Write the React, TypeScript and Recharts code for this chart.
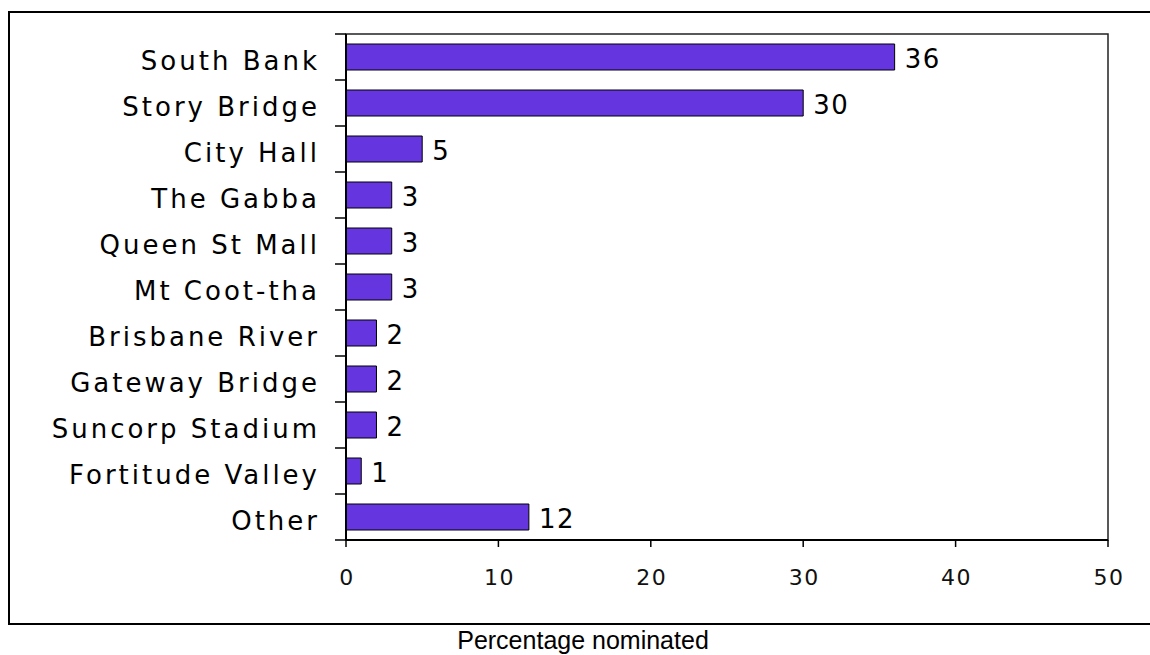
import { BarChart, Bar, XAxis, YAxis, LabelList, ReferenceArea } from "recharts";

const categories = [
  "South Bank",
  "Story Bridge",
  "City Hall",
  "The Gabba",
  "Queen St Mall",
  "Mt Coot-tha",
  "Brisbane River",
  "Gateway Bridge",
  "Suncorp Stadium",
  "Fortitude Valley",
  "Other",
];

const percentages = [36, 30, 5, 3, 3, 3, 2, 2, 2, 1, 12];

const xTicks = [0, 10, 20, 30, 40, 50];

const data = categories.map((name, i) => ({ name, value: percentages[i] }));

const CHART_W = 1150;
const CHART_H = 624;
const MARGIN = { top: 34, right: 42, bottom: 0, left: 0 };
const X_AXIS_H = 84;
const Y_AXIS_W = 346;
const PLOT_H = CHART_H - MARGIN.top - MARGIN.bottom - X_AXIS_H;
const BAND = PLOT_H / categories.length;
const Y_TICK = 11;

const labelFont = "'DejaVu Sans', sans-serif";

function CategoryTick(props: any) {
  const { x, y, payload, index } = props;
  const axisX = x + Y_TICK;
  const last = index === categories.length - 1;
  return (
    <g>
      <line x1={axisX - Y_TICK} x2={axisX} y1={y - BAND / 2} y2={y - BAND / 2} stroke="#000" strokeWidth={1.5} />
      {last && (
        <line x1={axisX - Y_TICK} x2={axisX} y1={y + BAND / 2} y2={y + BAND / 2} stroke="#000" strokeWidth={1.5} />
      )}
      <text
        x={axisX - 26}
        y={y + 12.5}
        textAnchor="end"
        fontFamily={labelFont}
        fontSize={26}
        letterSpacing={3}
        fill="#000"
      >
        {payload.value}
      </text>
    </g>
  );
}

function ValueTick(props: any) {
  const { x, y, payload } = props;
  return (
    <text x={x + 1} y={y + 38} textAnchor="middle" fontFamily={labelFont} fontSize={22} letterSpacing={1.5} fill="#111">
      {payload.value}
    </text>
  );
}

function BarValue(props: any) {
  const { x, y, width, height, value } = props;
  return (
    <text
      x={x + width + 10}
      y={y + height / 2 + 11}
      fontFamily={labelFont}
      fontSize={26}
      letterSpacing={1.5}
      fill="#000"
    >
      {value}
    </text>
  );
}

export default function App() {
  return (
    <div style={{ position: "relative", width: 1150, height: 655, overflow: "hidden", background: "#fff" }}>
      <style>{"html,body{margin:0;padding:0;overflow:hidden}"}</style>
      <div
        style={{
          position: "absolute",
          left: 8,
          top: 11,
          width: 1150,
          height: 614,
          boxSizing: "border-box",
          borderTop: "2px solid #000",
          borderLeft: "2px solid #000",
          borderBottom: "2px solid #000",
        }}
      />
      <div style={{ position: "absolute", left: 0, top: 0 }}>
        <BarChart width={CHART_W} height={CHART_H} data={data} layout="vertical" margin={MARGIN}>
          <ReferenceArea x1={0} x2={50} fill="none" stroke="#222" strokeWidth={1.5} />
          <XAxis
            type="number"
            domain={[0, 50]}
            ticks={xTicks}
            height={X_AXIS_H}
            tickSize={7}
            tickMargin={0}
            tick={<ValueTick />}
            axisLine={{ stroke: "#000", strokeWidth: 2 }}
            tickLine={{ stroke: "#000", strokeWidth: 1.5 }}
          />
          <YAxis
            type="category"
            dataKey="name"
            width={Y_AXIS_W}
            tickSize={Y_TICK}
            tickMargin={0}
            tickLine={false}
            tick={<CategoryTick />}
            interval={0}
            axisLine={{ stroke: "#000", strokeWidth: 2 }}
          />
          <Bar dataKey="value" fill="#6535DF" stroke="#000" strokeWidth={1} barSize={26} isAnimationActive={false}>
            <LabelList dataKey="value" content={<BarValue />} />
          </Bar>
        </BarChart>
      </div>
      <div
        style={{
          position: "absolute",
          left: 583 - 200,
          width: 400,
          top: 626,
          textAlign: "center",
          fontFamily: "'Liberation Sans', Arial, sans-serif",
          fontSize: 25,
          color: "#000",
          lineHeight: "28px",
          whiteSpace: "nowrap",
        }}
      >
        Percentage nominated
      </div>
    </div>
  );
}
